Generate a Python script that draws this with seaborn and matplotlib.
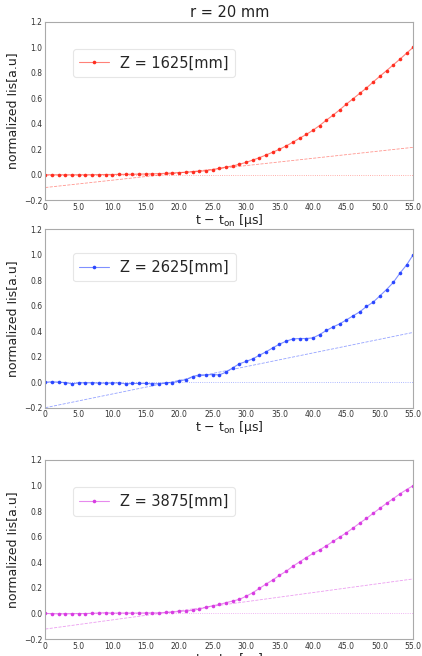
import numpy as np
import pandas as pd
import matplotlib
matplotlib.use("Agg")
import matplotlib.pyplot as plt
import matplotlib.colors as mcolors
import seaborn as sns

# ---------------- data ----------------
t_us = list(range(0, 56))

z1625 = [0.000, 0.000, 0.000, 0.000, 0.000, 0.000, 0.000, 0.001, 0.001, 0.002,
         0.002, 0.003, 0.003, 0.004, 0.005, 0.006, 0.007, 0.009, 0.011, 0.014,
         0.017, 0.020, 0.023, 0.027, 0.032, 0.040, 0.050, 0.060, 0.069, 0.082,
         0.097, 0.115, 0.134, 0.155, 0.177, 0.200, 0.226, 0.255, 0.286, 0.316,
         0.349, 0.386, 0.428, 0.467, 0.509, 0.554, 0.596, 0.638, 0.680, 0.727,
         0.772, 0.816, 0.861, 0.906, 0.953, 1.000]

z2625 = [0.000, 0.003, 0.000, -0.003, -0.013, -0.005, -0.005, -0.005, -0.007, -0.007,
         -0.007, -0.005, -0.013, -0.010, -0.010, -0.010, -0.012, -0.012, -0.005, -0.003,
         0.008, 0.020, 0.044, 0.057, 0.057, 0.060, 0.057, 0.078, 0.112, 0.144,
         0.162, 0.183, 0.211, 0.238, 0.269, 0.298, 0.321, 0.339, 0.342, 0.342,
         0.347, 0.373, 0.405, 0.433, 0.457, 0.488, 0.520, 0.551, 0.593, 0.627,
         0.676, 0.726, 0.781, 0.854, 0.919, 1.000]

z3875 = [0.000, -0.002, -0.003, -0.003, -0.002, -0.001, -0.001, 0.001, 0.003, 0.006,
         0.002, 0.003, 0.003, 0.003, 0.003, 0.004, 0.004, 0.005, 0.008, 0.010,
         0.016, 0.020, 0.024, 0.034, 0.047, 0.060, 0.070, 0.084, 0.097, 0.110,
         0.134, 0.162, 0.196, 0.230, 0.262, 0.298, 0.330, 0.369, 0.403, 0.437,
         0.469, 0.497, 0.529, 0.563, 0.597, 0.631, 0.668, 0.707, 0.743, 0.783,
         0.822, 0.861, 0.898, 0.935, 0.969, 1.000]

# linear fit lines (value at t=0 and at t=55)
fit_t = [0, 55]
fit1625 = [-0.100, 0.215]
fit2625 = [-0.200, 0.390]
fit3875 = [-0.122, 0.270]
zero_line = [0.0, 0.0]

series_names = ["Z = 1625[mm]", "Z = 2625[mm]", "Z = 3875[mm]"]
series_values = [z1625, z2625, z3875]
series_fits = [fit1625, fit2625, fit3875]
series_colors = ["#ff2d1f", "#2a46ff", "#d83ce2"]

xticks = [0, 5, 10, 15, 20, 25, 30, 35, 40, 45, 50, 55]
xtick_labels = ["0", "5.0", "10.0", "15.0", "20.0", "25.0", "30.0", "35.0",
                "40.0", "45.0", "50.0", "55.0"]
yticks = [-0.2, 0.0, 0.2, 0.4, 0.6, 0.8, 1.0, 1.2]
ytick_labels = ["\u22120.2", "0.0", "0.2", "0.4", "0.6", "0.8", "1.0", "1.2"]

title = "r = 20 mm"
ylabel = "normalized Iis[a.u]"
xlabel = r"t $-$ t$_{\mathrm{on}}$ [$\mathrm{\mu}$s]"

# ---------------- plot ----------------
sns.set_style("white")
plt.rcParams["font.family"] = ["DejaVu Sans"]

fig = plt.figure(figsize=(4.22, 6.56), dpi=100)
positions = [
    [0.1074, 0.6947, 0.872, 0.2723],
    [0.1074, 0.3785, 0.872, 0.2724],
    [0.1074, 0.0259, 0.872, 0.2729],
]
legend_y = [0.847, 0.864, 0.847]

for i in range(3):
    ax = fig.add_axes(positions[i])
    color = series_colors[i]
    line_rgba = mcolors.to_rgba(color, 0.6)
    df = pd.DataFrame({"t": t_us, "v": series_values[i]})
    sns.lineplot(data=df, x="t", y="v", ax=ax, color=line_rgba, lw=0.8,
                 marker="o", markersize=2.6, markeredgewidth=0,
                 markerfacecolor=color, label=series_names[i])
    dff = pd.DataFrame({"t": fit_t, "v": series_fits[i]})
    sns.lineplot(data=dff, x="t", y="v", ax=ax, color=color, lw=0.6, alpha=0.5,
                 linestyle="--", dashes=(3, 1))
    dfz = pd.DataFrame({"t": fit_t, "v": zero_line})
    sns.lineplot(data=dfz, x="t", y="v", ax=ax, color=color, lw=0.6, alpha=0.5,
                 linestyle=":")

    ax.set_xlim(0, 55)
    ax.set_ylim(-0.2, 1.2)
    ax.set_xticks(xticks)
    ax.set_xticklabels(xtick_labels)
    ax.set_yticks(yticks)
    ax.set_yticklabels(ytick_labels)
    ax.tick_params(axis="both", labelsize=5.5, labelcolor="#333333",
                   length=0, pad=2)
    for sp in ax.spines.values():
        sp.set_color("#aaaaaa")
        sp.set_linewidth(0.8)
    ax.set_xlabel(xlabel, fontsize=9, labelpad=0, color="#222222")
    ax.set_ylabel(ylabel, fontsize=9, labelpad=4, color="#222222")
    leg = ax.legend(loc="upper left", bbox_to_anchor=(0.075, legend_y[i]),
                    borderaxespad=0, fontsize=10.5, handlelength=2.0,
                    frameon=True, fancybox=True, framealpha=1.0,
                    borderpad=0.45)
    leg.get_frame().set_edgecolor("#e6e6e6")
    leg.get_frame().set_linewidth(0.8)
    if i == 0:
        ax.set_title(title, fontsize=10.5, pad=3, color="#222222")

fig.savefig("out.png", dpi=100)
